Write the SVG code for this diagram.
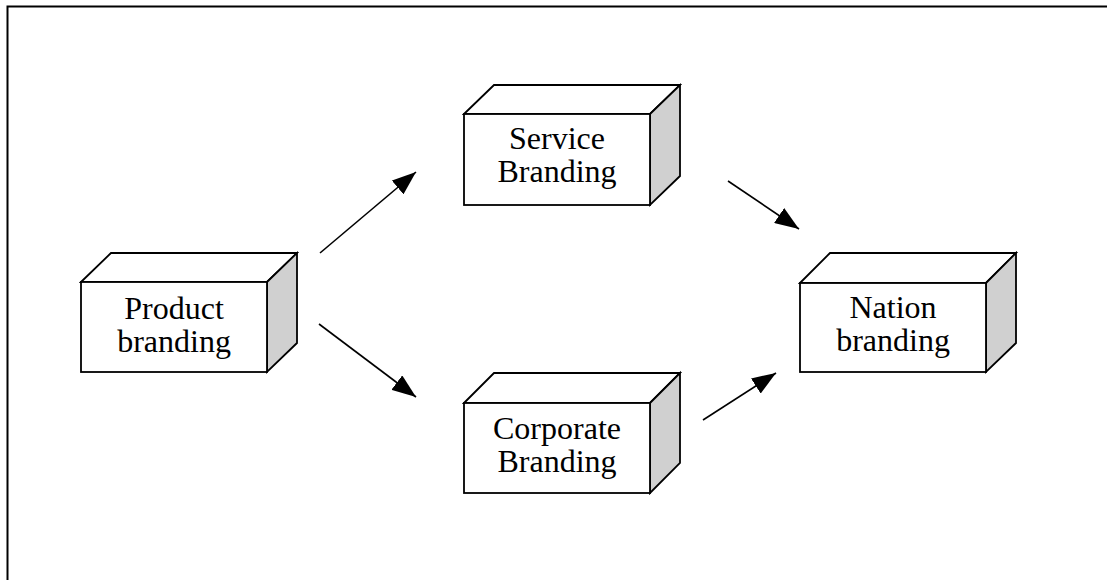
<svg xmlns="http://www.w3.org/2000/svg" width="1107" height="580" viewBox="0 0 1107 580">
<style>
.face{fill:#ffffff;stroke:#000;stroke-width:1.8;stroke-linejoin:miter}
.side{fill:#d0d0d0;stroke:#000;stroke-width:1.8}
.lbl{font-family:"Liberation Serif","Times New Roman",serif;font-size:32px;fill:#000;text-anchor:middle}
.conn{stroke:#000;stroke-width:1.6;fill:none}
.frame{stroke:#000;stroke-width:2;fill:none}
</style>
<defs>
<marker id="ah" viewBox="0 0 24 18" markerWidth="24" markerHeight="18" refX="24" refY="9" orient="auto" markerUnits="userSpaceOnUse">
<path d="M0,0 L24,9 L0,18 z" fill="#000"/>
</marker>
</defs>
<rect width="1107" height="580" fill="#fff"/>
<path class="frame" d="M7.5,580 L7.5,6.5 L1107,6.5"/>
<g id="product">
<polygon class="face" points="81,282 111,253 297,253 267,282"/>
<polygon class="side" points="267,282 297,253 297,343 267,372"/>
<rect class="face" x="81" y="282" width="186" height="90"/>
<text class="lbl" x="174" y="319">Product</text>
<text class="lbl" x="174" y="352">branding</text>
</g>
<g id="service">
<polygon class="face" points="464,114 494,85 680,85 650,114"/>
<polygon class="side" points="650,114 680,85 680,176 650,205"/>
<rect class="face" x="464" y="114" width="186" height="91"/>
<text class="lbl" x="557" y="149">Service</text>
<text class="lbl" x="557" y="182">Branding</text>
</g>
<g id="corporate">
<polygon class="face" points="464,403 494,373 680,373 650,403"/>
<polygon class="side" points="650,403 680,373 680,463 650,493"/>
<rect class="face" x="464" y="403" width="186" height="90"/>
<text class="lbl" x="557" y="439">Corporate</text>
<text class="lbl" x="557" y="472">Branding</text>
</g>
<g id="nation">
<polygon class="face" points="800,283 830,253 1016,253 986,283"/>
<polygon class="side" points="986,283 1016,253 1016,343 986,372"/>
<rect class="face" x="800" y="283" width="186" height="89"/>
<text class="lbl" x="893" y="318">Nation</text>
<text class="lbl" x="893" y="351">branding</text>
</g>
<g id="connectors">
<line class="conn" x1="320" y1="253" x2="416" y2="172" marker-end="url(#ah)"/>
<line class="conn" x1="319" y1="324" x2="416" y2="397" marker-end="url(#ah)"/>
<line class="conn" x1="728" y1="181" x2="799" y2="229" marker-end="url(#ah)"/>
<line class="conn" x1="703" y1="420" x2="776" y2="373" marker-end="url(#ah)"/>
</g>
</svg>
